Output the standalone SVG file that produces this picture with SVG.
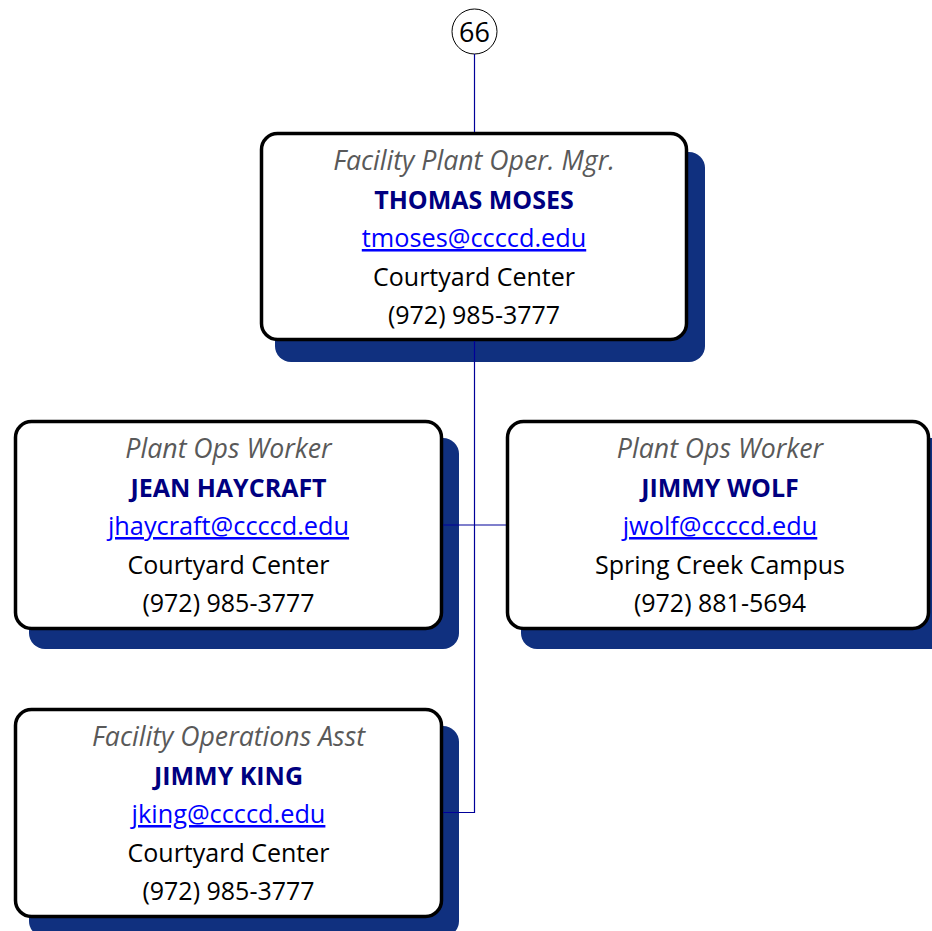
<svg xmlns="http://www.w3.org/2000/svg" width="932" height="931" viewBox="0 0 932 931">
<style>
.shadow{fill:#10307f}
.box{fill:#fff;stroke:#000;stroke-width:3.5}
text{font-family:"Open Sans","Liberation Sans",sans-serif;font-size:25px;text-anchor:middle}
.title{font-style:italic;fill:#595959;font-size:26.7px}
.name{font-weight:bold;fill:#000080}
.mail{fill:#0000ff;text-decoration:underline;font-size:25.3px}
.info{fill:#000}
.conn{stroke:#000099;stroke-width:1.2;fill:none}
</style>
<rect width="932" height="931" fill="#fff"/>
<g id="ref66">
<circle cx="474.5" cy="31.5" r="22.5" fill="#fff" stroke="#000" stroke-width="1"/>
<text x="474.5" y="41.5" class="info" style="font-size:27px">66</text>
</g>
<g id="moses">
<rect class="shadow" x="275" y="152" width="430" height="210" rx="16"/>
<rect class="box" x="261.5" y="133.5" width="425" height="206" rx="16"/>
<text x="474" y="170" class="title">Facility Plant Oper. Mgr.</text>
<text x="474" y="208.5" class="name">THOMAS MOSES</text>
<text x="474" y="247" class="mail">tmoses@ccccd.edu</text>
<text x="474" y="285.5" class="info">Courtyard Center</text>
<text x="474" y="324" class="info">(972) 985-3777</text>
</g>
<g id="haycraft">
<rect class="shadow" x="29" y="438" width="430" height="211" rx="16"/>
<rect class="box" x="15.5" y="421.5" width="426" height="207" rx="16"/>
<text x="228.5" y="458" class="title">Plant Ops Worker</text>
<text x="228.5" y="496.5" class="name">JEAN HAYCRAFT</text>
<text x="228.5" y="535" class="mail">jhaycraft@ccccd.edu</text>
<text x="228.5" y="573.5" class="info">Courtyard Center</text>
<text x="228.5" y="612" class="info">(972) 985-3777</text>
</g>
<g id="wolf">
<rect class="shadow" x="521" y="438" width="430" height="211" rx="16"/>
<rect class="box" x="507.5" y="421.5" width="421" height="207" rx="16"/>
<text x="720" y="458" class="title">Plant Ops Worker</text>
<text x="720" y="496.5" class="name">JIMMY WOLF</text>
<text x="720" y="535" class="mail">jwolf@ccccd.edu</text>
<text x="720" y="573.5" class="info">Spring Creek Campus</text>
<text x="720" y="612" class="info">(972) 881-5694</text>
</g>
<g id="king">
<rect class="shadow" x="29" y="726" width="430" height="211" rx="16"/>
<rect class="box" x="15.5" y="709.5" width="426" height="207" rx="16"/>
<text x="228.5" y="746" class="title">Facility Operations Asst</text>
<text x="228.5" y="784.5" class="name">JIMMY KING</text>
<text x="228.5" y="823" class="mail">jking@ccccd.edu</text>
<text x="228.5" y="861.5" class="info">Courtyard Center</text>
<text x="228.5" y="900" class="info">(972) 985-3777</text>
</g>
<g id="connectors">
<line class="conn" x1="474.5" y1="54" x2="474.5" y2="132"/>
<polyline class="conn" points="474.5,341 474.5,812.5 443,812.5"/>
<line class="conn" x1="443" y1="525" x2="506" y2="525"/>
</g>
</svg>
